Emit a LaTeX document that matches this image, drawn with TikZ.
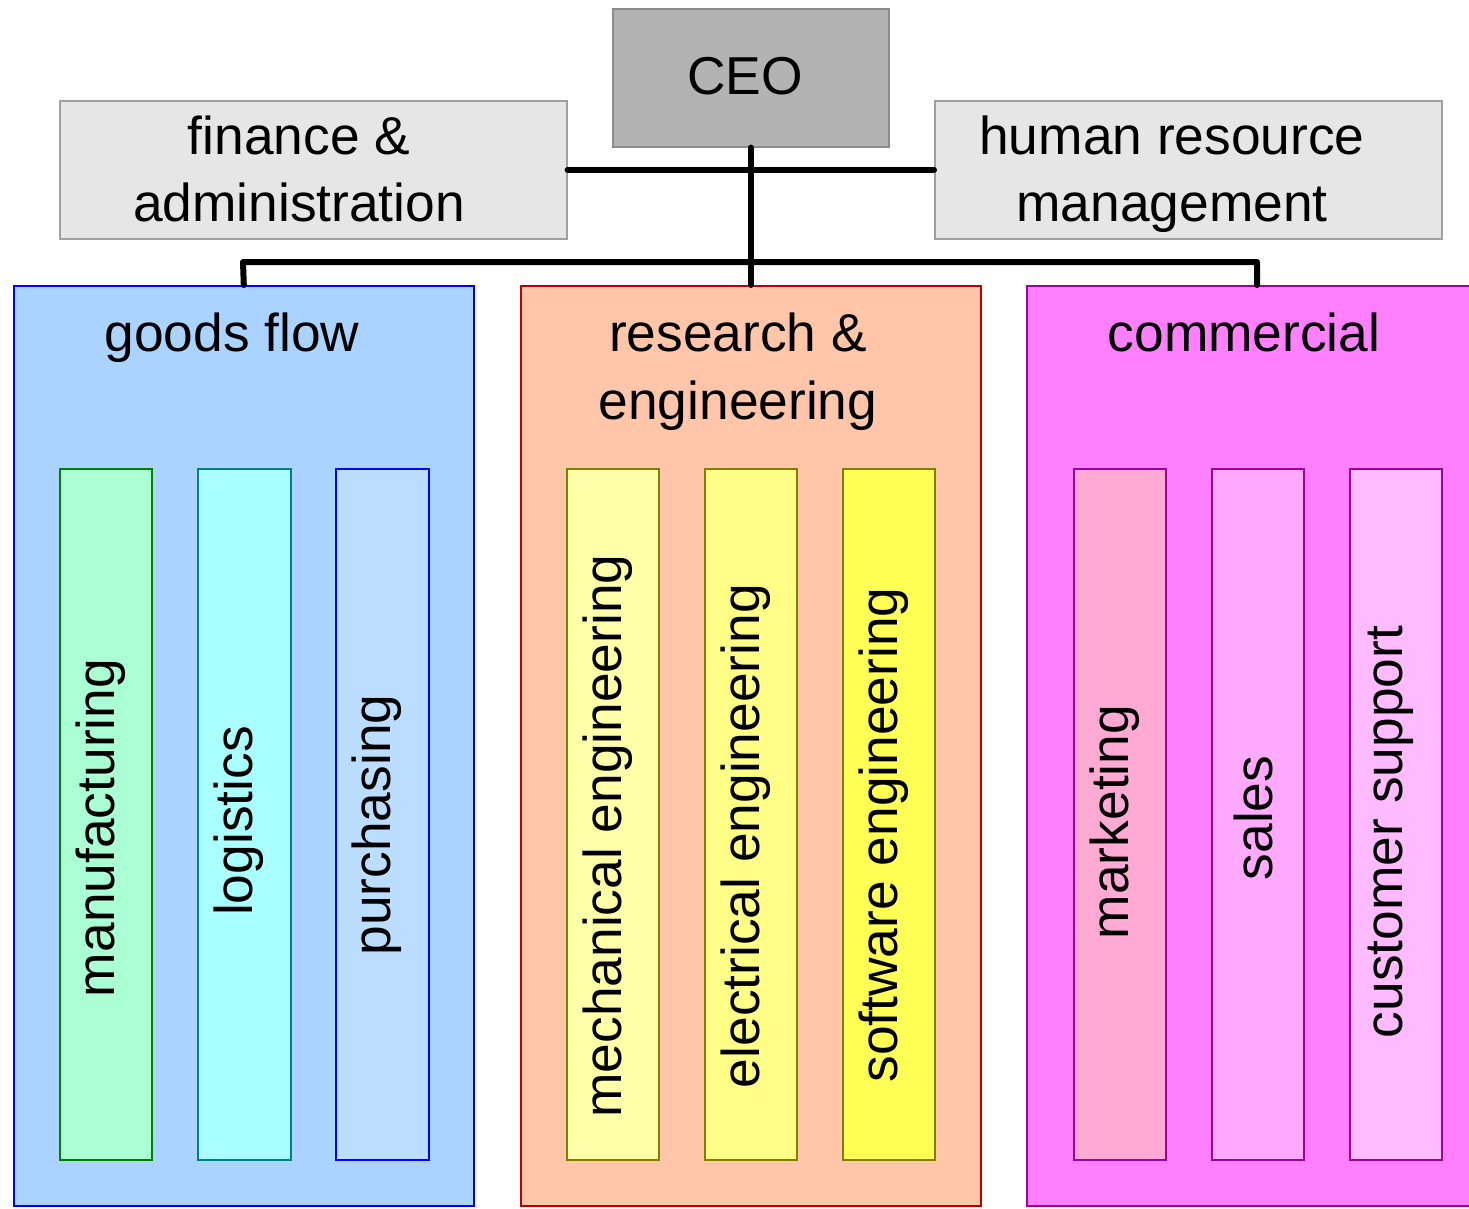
\documentclass[tikz,border=0pt]{standalone}
\usepackage{fontspec}
\setmainfont{Liberation Sans}
\def\u{0.75pt}
\tikzset{
  box/.style={draw, anchor=north west, inner sep=0pt, line width=1.2pt},
  lbl/.style={font=\fontsize{40}{51}\selectfont, inner sep=0pt, align=center},
  rlbl/.style={font=\fontsize{40}{51}\selectfont, inner sep=0pt, rotate=90},
  conn/.style={line width=4.5pt, line cap=round, line join=round},
}
\definecolor{ceofill}{HTML}{B3B3B3}
\definecolor{ceodraw}{HTML}{8C8C8C}
\definecolor{stafffill}{HTML}{E6E6E6}
\definecolor{staffdraw}{HTML}{A0A0A0}
\definecolor{gfill}{HTML}{AAD4FF}
\definecolor{rfill}{HTML}{FFC6AA}
\definecolor{rdraw}{HTML}{C00000}
\definecolor{cfill}{HTML}{FF80FF}
\definecolor{cdraw}{HTML}{A000A0}
\definecolor{manf}{HTML}{AAFFD4}
\definecolor{logf}{HTML}{AAFFFF}
\definecolor{purf}{HTML}{BBDDFF}
\definecolor{mecf}{HTML}{FFFFAA}
\definecolor{elef}{HTML}{FFFF88}
\definecolor{sof}{HTML}{FFFF55}
\definecolor{olive}{HTML}{808000}
\definecolor{mkf}{HTML}{FFAAD4}
\definecolor{saf}{HTML}{FFAAFF}
\definecolor{csf}{HTML}{FFBBFF}
\begin{document}
\begin{tikzpicture}[x=0.75pt, y=-0.75pt]
\useasboundingbox (0,0) rectangle (1469,1208);
\fill[white] (0,0) rectangle (1469,1208);
\begin{scope}
\clip (0,0) rectangle (1469,1208);
% top level
\node[box, fill=ceofill, draw=ceodraw, minimum width=276*\u, minimum height=138*\u] (ceo) at (612,8) {};
\node[box, fill=stafffill, draw=staffdraw, minimum width=507*\u, minimum height=138*\u] (fin) at (59,100) {};
\node[box, fill=stafffill, draw=staffdraw, minimum width=507*\u, minimum height=138*\u] (hr) at (934,100) {};
% columns
\node[box, fill=gfill, draw=blue, minimum width=460*\u, minimum height=920*\u] (gf) at (13,285) {};
\node[box, fill=rfill, draw=rdraw, minimum width=460*\u, minimum height=920*\u] (re) at (520,285) {};
\node[box, fill=cfill, draw=cdraw, minimum width=460*\u, minimum height=920*\u] (co) at (1026,285) {};
% sub boxes
\node[box, fill=manf, draw=green!50!black, minimum width=92*\u, minimum height=691*\u] (man) at (59,468) {};
\node[box, fill=logf, draw=teal, minimum width=93*\u, minimum height=691*\u] (log) at (197,468) {};
\node[box, fill=purf, draw=blue, minimum width=93*\u, minimum height=691*\u] (pur) at (335,468) {};
\node[box, fill=mecf, draw=olive, minimum width=92*\u, minimum height=691*\u] (mec) at (566,468) {};
\node[box, fill=elef, draw=olive, minimum width=92*\u, minimum height=691*\u] (ele) at (704,468) {};
\node[box, fill=sof, draw=olive, minimum width=92*\u, minimum height=691*\u] (sof) at (842,468) {};
\node[box, fill=mkf, draw=cdraw, minimum width=92*\u, minimum height=691*\u] (mkt) at (1073,468) {};
\node[box, fill=saf, draw=cdraw, minimum width=92*\u, minimum height=691*\u] (sal) at (1211,468) {};
\node[box, fill=csf, draw=cdraw, minimum width=92*\u, minimum height=691*\u] (cus) at (1349,468) {};
\end{scope}
% connectors
\coordinate (jl) at (243,262);
\coordinate (jr) at (1257,262);
\draw[conn] (fin.east) -- (hr.west);
\draw[conn] (ceo.south) -- (re.north);
\draw[conn] (gf.north) -- (jl) -- (jr) -- (co.north -| jr);
% texts
\node[lbl, anchor=base] (tceo) at (745,94) {CEO};
\node[lbl, anchor=base] (tfin1) at (299,154) {finance \&};
\node[lbl, anchor=base] (tfin2) at (299,221) {administration};
\node[lbl, anchor=base] (thr1) at (1172,154) {human resource};
\node[lbl, anchor=base] (thr2) at (1172,221) {management};
\node[lbl, anchor=base] (tgf) at (232,351) {goods flow};
\node[lbl, anchor=base] (tre1) at (738,351) {research \&};
\node[lbl, anchor=base] (tre2) at (738,419) {engineering};
\node[lbl, anchor=base] (tco) at (1244,351) {commercial};
\node[rlbl] (tman) at (101,828) {manufacturing};
\node[rlbl] (tlog) at (239,821) {logistics};
\node[rlbl] (tpur) at (377,825) {purchasing};
\node[rlbl] (tmec) at (608,836) {mechanical engineering};
\node[rlbl] (tele) at (746,836) {electrical engineering};
\node[rlbl] (tsof) at (884,835) {software engineering};
\node[rlbl] (tmkt) at (1115,822) {marketing};
\node[rlbl] (tsal) at (1253,818) {sales};
\node[rlbl] (tcus) at (1391,832) {customer support};
\end{tikzpicture}
\end{document}
